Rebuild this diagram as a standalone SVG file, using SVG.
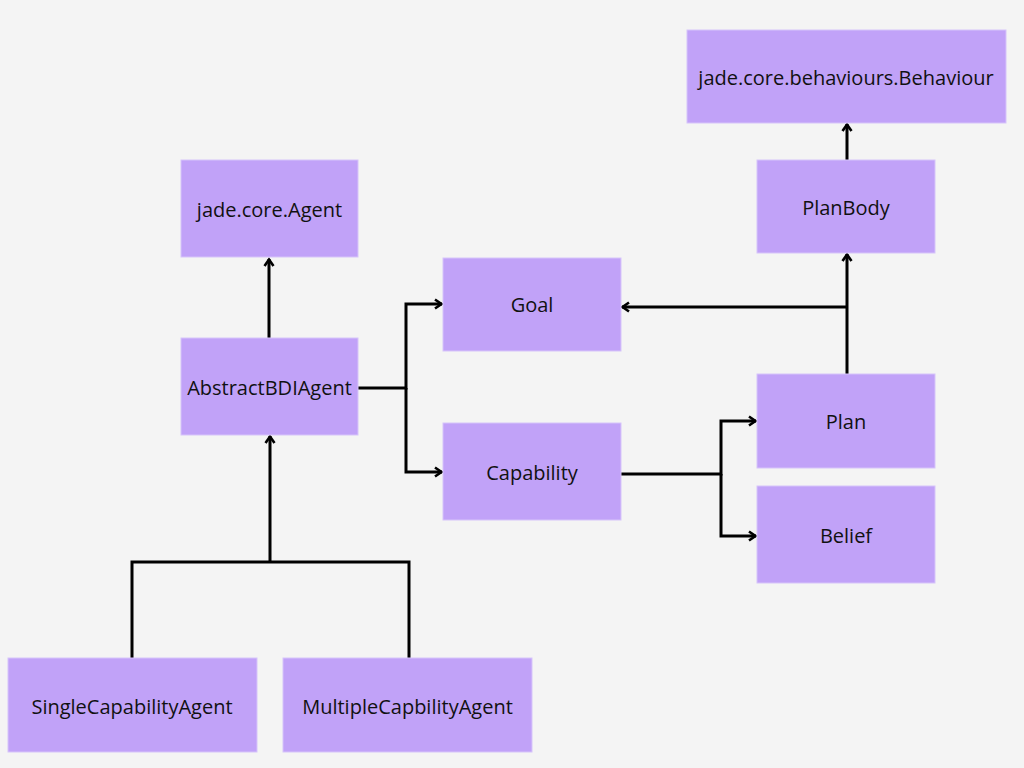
<svg xmlns="http://www.w3.org/2000/svg" width="1024" height="768" viewBox="0 0 1024 768">
<defs>
<style>
.box{fill:#C1A2F8;stroke:#D6C4FA;stroke-width:1}
.lbl{font-family:"Open Sans","Noto Sans",sans-serif;font-size:20px;fill:#111111;text-anchor:middle;dominant-baseline:central}
.con{fill:none;stroke:#000;stroke-width:3;stroke-linejoin:miter}
</style>
<marker id="arr" viewBox="0 0 12 12" refX="10" refY="6" markerWidth="12" markerHeight="12" markerUnits="userSpaceOnUse" orient="auto">
<path d="M3,1.5 L9.5,6 L3,10.5" fill="none" stroke="#000" stroke-width="2.6"/>
</marker>
</defs>
<rect width="1024" height="768" fill="#F4F4F4"/>
<g id="connectors">
<path class="con" d="M269,338 V259" marker-end="url(#arr)"/>
<path class="con" d="M358,388 H406 V304 H442" marker-end="url(#arr)"/>
<path class="con" d="M406,388 V472 H442" marker-end="url(#arr)"/>
<path class="con" d="M621,474 H721 V421 H756" marker-end="url(#arr)"/>
<path class="con" d="M721,474 V536 H756" marker-end="url(#arr)"/>
<path class="con" d="M847,374 V254" marker-end="url(#arr)"/>
<path class="con" d="M847,307 H622" marker-end="url(#arr)"/>
<path class="con" d="M847,160 V124" marker-end="url(#arr)"/>
<path class="con" d="M132,658 V562 H409 V658"/>
<path class="con" d="M270,562 V436" marker-end="url(#arr)"/>
</g>
<g id="behaviour"><rect class="box" x="687" y="30" width="319" height="93"/><text class="lbl" x="846" y="77">jade.core.behaviours.Behaviour</text></g>
<g id="planbody"><rect class="box" x="757" y="160" width="178" height="93"/><text class="lbl" x="846" y="207">PlanBody</text></g>
<g id="agent"><rect class="box" x="181" y="160" width="177" height="97"/><text class="lbl" x="269.5" y="209">jade.core.Agent</text></g>
<g id="abstractbdiagent"><rect class="box" x="181" y="338" width="177" height="97"/><text class="lbl" x="269.5" y="387">AbstractBDIAgent</text></g>
<g id="goal"><rect class="box" x="443" y="258" width="178" height="93"/><text class="lbl" x="532" y="304">Goal</text></g>
<g id="capability"><rect class="box" x="443" y="423" width="178" height="97"/><text class="lbl" x="532" y="472">Capability</text></g>
<g id="plan"><rect class="box" x="757" y="374" width="178" height="94"/><text class="lbl" x="846" y="421">Plan</text></g>
<g id="belief"><rect class="box" x="757" y="486" width="178" height="97"/><text class="lbl" x="846" y="535">Belief</text></g>
<g id="singlecapabilityagent"><rect class="box" x="8" y="658" width="249" height="94"/><text class="lbl" x="132" y="706">SingleCapabilityAgent</text></g>
<g id="multiplecapbilityagent"><rect class="box" x="283" y="658" width="249" height="94"/><text class="lbl" x="407.5" y="706">MultipleCapbilityAgent</text></g>
</svg>
